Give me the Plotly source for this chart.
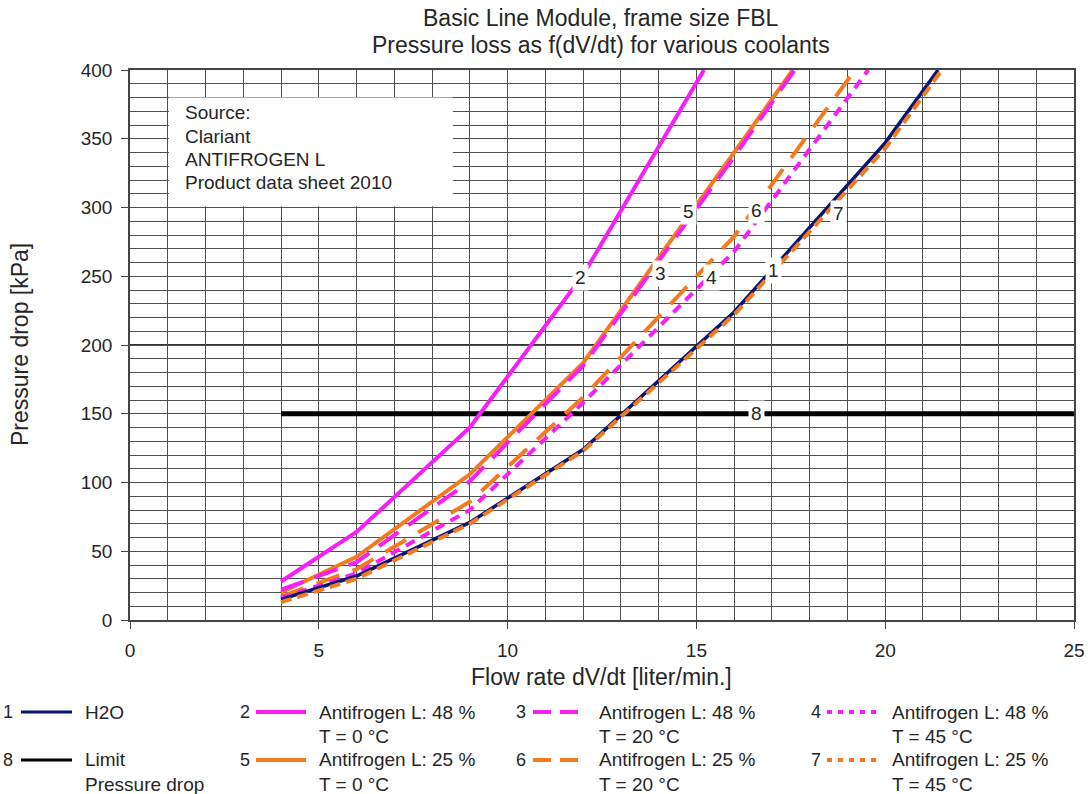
import plotly.graph_objects as go

# ---------------- data ----------------
flow_1 = [4, 6, 9, 12, 16, 20, 21.4]
dp_1 = [15, 32, 71, 124, 224, 347, 400]          # H2O

flow_2 = [4, 6, 9, 12, 15.2]
dp_2 = [28, 64, 140, 251, 400]                   # 48 %, 0 °C

flow_3 = [4, 6, 9, 12, 16, 17.6]
dp_3 = [22, 42, 101, 185, 337, 400]              # 48 %, 20 °C

flow_4 = [4, 6, 9, 12, 16, 19.55]
dp_4 = [16, 34, 80, 158, 268, 400]               # 48 %, 45 °C

flow_5 = [4, 6, 9, 12, 16, 17.55]
dp_5 = [20, 46, 106, 187, 340, 400]              # 25 %, 0 °C

flow_6 = [4, 6, 9, 12, 16, 19.2]
dp_6 = [17, 37, 86, 162, 279, 400]               # 25 %, 20 °C

flow_7 = [4, 6, 9, 12, 16, 20, 21.5]
dp_7 = [13, 30, 70, 123, 222, 343, 400]          # 25 %, 45 °C

flow_8 = [4, 25]
dp_8 = [150, 150]                                # limit pressure drop

curve_ids = ["1", "2", "3", "4", "5", "6", "7", "8"]
curve_names = ["H2O", "Antifrogen L: 48 %<br>T = 0 °C", "Antifrogen L: 48 %<br>T = 20 °C",
               "Antifrogen L: 48 %<br>T = 45 °C", "Antifrogen L: 25 %<br>T = 0 °C",
               "Antifrogen L: 25 %<br>T = 20 °C", "Antifrogen L: 25 %<br>T = 45 °C",
               "Limit<br>Pressure drop"]
label_flow = [17.03, 11.92, 14.06, 15.41, 14.8, 16.58, 18.75, 16.58]
label_dp = [254, 249, 252, 249, 297, 298, 296, 150]

x_ticks = [0, 5, 10, 15, 20, 25]
y_ticks = [0, 50, 100, 150, 200, 250, 300, 350, 400]
title_lines = ["Basic Line Module, frame size FBL", "Pressure loss as f(dV/dt) for various coolants"]
source_lines = ["Source:", "Clariant", "ANTIFROGEN L", "Product data sheet 2010"]

# ---------------- styles ----------------
FONT = "Liberation Sans, Arial, sans-serif"
TXT = "#262626"
MAG = "#F81EF8"
ORA = "#F47A1F"
NAVY = "#0A1470"
styles = {
    "1": dict(color=NAVY, width=3.5, dash="solid"),
    "2": dict(color=MAG, width=4, dash="solid"),
    "3": dict(color=MAG, width=4, dash="24px,12px"),
    "4": dict(color=MAG, width=4, dash="10px,7px"),
    "5": dict(color=ORA, width=4, dash="solid"),
    "6": dict(color=ORA, width=4, dash="24px,14px"),
    "7": dict(color=ORA, width=4, dash="11px,6px"),
    "8": dict(color="black", width=5, dash="solid"),
}
series = {
    "1": (flow_1, dp_1), "2": (flow_2, dp_2), "3": (flow_3, dp_3), "4": (flow_4, dp_4),
    "5": (flow_5, dp_5), "6": (flow_6, dp_6), "7": (flow_7, dp_7), "8": (flow_8, dp_8),
}
draw_order = ["8", "2", "5", "3", "6", "4", "1", "7"]

W, H = 1088, 794
PL, PR, PT, PB = 130, 1074, 70, 620          # plot area in pixels
L, R, T, B = PL, W - PR, PT, H - PB
PW, PH = PR - PL, PB - PT


def px(xp):
    return (xp - PL) / PW


def py(yp):
    return (PB - yp) / PH


fig = go.Figure()
for cid in draw_order:
    xs, ys = series[cid]
    fig.add_trace(go.Scatter(x=xs, y=ys, mode="lines", line=styles[cid],
                             name=cid, showlegend=False, hoverinfo="skip"))

shapes = []
annotations = []

# darker major line at 200
shapes.append(dict(type="line", xref="x", yref="y", x0=0, x1=25, y0=200, y1=200,
                   line=dict(color="#333", width=2), layer="below"))

# source box
shapes.append(dict(type="rect", xref="x", yref="y", x0=1.03, x1=8.55, y0=301, y1=380,
                   fillcolor="white", line=dict(width=0), layer="above"))
for i, s in enumerate(source_lines):
    annotations.append(dict(x=px(183), y=py(113 + i * 23), xref="paper", yref="paper",
                            text=s, showarrow=False, xanchor="left", yanchor="middle",
                            font=dict(family=FONT, size=19, color=TXT)))

# title
for i, s in enumerate(title_lines):
    annotations.append(dict(x=px(601), y=py(18 + i * 27), xref="paper", yref="paper",
                            text=s, showarrow=False, xanchor="center", yanchor="middle",
                            font=dict(family=FONT, size=23, color=TXT)))

# curve labels
for cid, lx, ly in zip(curve_ids, label_flow, label_dp):
    annotations.append(dict(x=lx, y=ly, xref="x", yref="y", text=cid, showarrow=False,
                            xanchor="center", yanchor="middle",
                            bgcolor="white", borderpad=2,
                            font=dict(family=FONT, size=19, color=TXT)))

# legend (manual, like the reference)
leg_cols = [(8, 21, 72, 83), (245, 256, 306, 317), (521, 533, 584, 597), (816, 827, 880, 890)]
leg_rows = [712, 760]
leg_layout = [["1", "2", "3", "4"], ["8", "5", "6", "7"]]
for r, row in enumerate(leg_layout):
    yrow = leg_rows[r]
    for c, cid in enumerate(row):
        nx, lx0, lx1, tx = leg_cols[c]
        st = styles[cid]
        dash = st["dash"]
        if cid in ("3", "6"):
            dash = "18px,9px"
        elif cid in ("4", "7"):
            dash = "5px,6px"
        shapes.append(dict(type="line", xref="paper", yref="paper",
                           x0=px(lx0), x1=px(lx1), y0=py(yrow), y1=py(yrow),
                           line=dict(color=st["color"], width=3 if cid in ("1", "8") else 4,
                                     dash=dash)))
        annotations.append(dict(x=px(nx), y=py(yrow), xref="paper", yref="paper",
                                text=cid, showarrow=False, xanchor="center", yanchor="middle",
                                font=dict(family=FONT, size=18, color=TXT)))
        name_lines = curve_names[curve_ids.index(cid)].split("<br>")
        for k, t in enumerate(name_lines):
            annotations.append(dict(x=px(tx), y=py(yrow + 24 * k), xref="paper", yref="paper",
                                    text=t, showarrow=False, xanchor="left", yanchor="middle",
                                    font=dict(family=FONT, size=19, color=TXT)))

# axis titles
annotations.append(dict(x=px(601), y=py(677), xref="paper", yref="paper",
                        text="Flow rate dV/dt [liter/min.]", showarrow=False,
                        xanchor="center", yanchor="middle",
                        font=dict(family=FONT, size=23, color=TXT)))
annotations.append(dict(x=px(20), y=py(345), xref="paper", yref="paper",
                        text="Pressure drop [kPa]", showarrow=False, textangle=-90,
                        xanchor="center", yanchor="middle",
                        font=dict(family=FONT, size=23, color=TXT)))

fig.update_layout(
    width=W, height=H,
    margin=dict(l=L, r=R, t=T, b=B, autoexpand=False),
    paper_bgcolor="white", plot_bgcolor="white",
    shapes=shapes, annotations=annotations,
    xaxis=dict(range=[0, 25], tickvals=x_ticks, ticks="outside", ticklen=7, tickcolor="#444",
               ticklabelstandoff=5,
               showgrid=True, gridcolor="#505050", gridwidth=1,
               minor=dict(dtick=1, showgrid=True, gridcolor="#505050", gridwidth=1),
               showline=True, linecolor="#444", linewidth=1.5, mirror=True,
               zeroline=False, tickfont=dict(family=FONT, size=19, color=TXT)),
    yaxis=dict(range=[0, 400], tickvals=y_ticks, ticks="outside", ticklen=7, tickcolor="#444",
               ticklabelstandoff=5,
               showgrid=True, gridcolor="#505050", gridwidth=1,
               minor=dict(dtick=10, showgrid=True, gridcolor="#505050", gridwidth=1),
               showline=True, linecolor="#444", linewidth=1.5, mirror=True,
               zeroline=False, tickfont=dict(family=FONT, size=19, color=TXT)),
    showlegend=False,
)

# place the figure at the page origin so that the 1088x794 window shows it whole
fig.write_html("out.html", config={"displayModeBar": False},
               post_script="document.body.style.margin='0';document.body.style.overflow='hidden';")
